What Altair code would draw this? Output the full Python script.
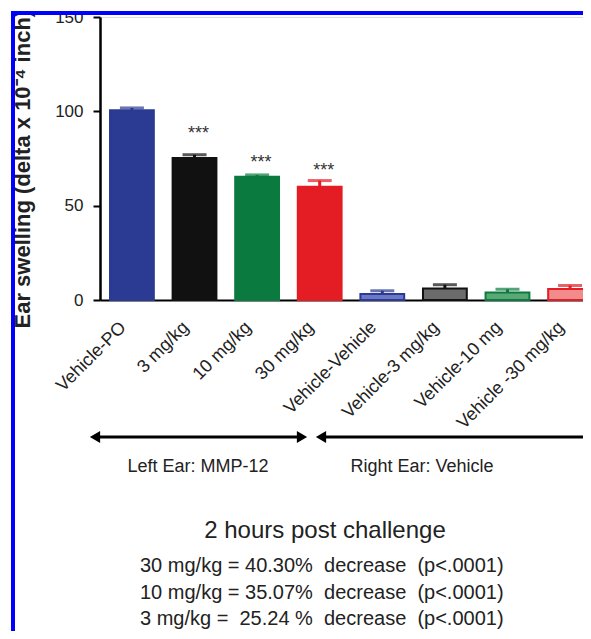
import altair as alt
import pandas as pd

# ---- data ----
groups = ["Vehicle-PO", "3 mg/kg", "10 mg/kg", "30 mg/kg",
          "Vehicle-Vehicle", "Vehicle-3 mg/kg", "Vehicle-10 mg", "Vehicle -30 mg/kg"]
means = [100.6, 75.2, 65.3, 60.0, 3.2, 6.1, 4.0, 5.8]
sems = [1.2, 1.8, 1.0, 3.3, 1.7, 2.0, 1.7, 1.9]

star_groups = ["3 mg/kg", "10 mg/kg", "30 mg/kg"]
star_levels = [90.6, 75.1, 71.2]

y_ticks = [0, 50, 100, 150]

NB = "\u00a0"
region_labels = ["Left Ear: MMP-12", "Right Ear: Vehicle"]
subtitle = "2 hours post challenge"
notes = ["30 mg/kg = 40.30%" + NB * 2 + "decrease" + NB * 2 + "(p<.0001)",
         "10 mg/kg = 35.07%" + NB * 2 + "decrease" + NB * 2 + "(p<.0001)",
         "3 mg/kg =" + NB * 2 + "25.24 %" + NB * 2 + "decrease" + NB * 2 + "(p<.0001)"]

# ---- styles ----
fill_palette = ["#2b3a92", "#111111", "#0b7a3e", "#e31d23",
                "#6a78c6", "#6b6b6b", "#5aa876", "#f28c8c"]
stroke_palette = ["#2b3a92", "#111111", "#0b7a3e", "#e31d23",
                  "#2b3a92", "#111111", "#0b7a3e", "#e31d23"]
FONT = "Liberation Sans"
BORDER = "#0000ff"

df = pd.DataFrame({"group": groups, "mean": means, "sem": sems})
df["top"] = df["mean"] + df["sem"]
stars = pd.DataFrame({"group": star_groups, "level": star_levels})
one = pd.DataFrame({"k": [0]})

x_scale = alt.Scale(domain=groups, range=[0, 502], paddingInner=0.3, paddingOuter=0.16)
x_axis = alt.Axis(title=None, labelAngle=315, labelAlign="right", labelBaseline="alphabetic",
                  labelPadding=28, labelOffset=-5, labelFontSize=18, labelColor="#222222",
                  labelFont=FONT, ticks=False, tickSize=0, domainColor="black",
                  domainWidth=2, labelOverlap=False, labelBound=False, grid=False)
y_scale = alt.Scale(domain=[0, 150], nice=False, zero=True)
y_axis = alt.Axis(title="Ear swelling (delta x 10\u207b\u2074 inch)", values=y_ticks,
                  titleFontSize=22, titleFontWeight="bold", titleFont=FONT, titleColor="#222222",
                  titleAngle=270, titleAlign="left", titleBaseline="alphabetic",
                  titleX=-71, titleY=311,
                  labelFontSize=17, labelFont=FONT, labelColor="#222222", labelPadding=10,
                  tickSize=7, tickWidth=2, tickColor="black",
                  domainColor="black", domainWidth=2.5, grid=False)

X = alt.X("group:N", scale=x_scale, axis=x_axis, sort=groups)

bars = alt.Chart(df).mark_bar(strokeWidth=2).encode(
    x=X,
    y=alt.Y("mean:Q", scale=y_scale, axis=y_axis),
    fill=alt.Fill("group:N", scale=alt.Scale(domain=groups, range=fill_palette), legend=None),
    stroke=alt.Stroke("group:N", scale=alt.Scale(domain=groups, range=stroke_palette), legend=None),
)

err_rule = alt.Chart(df).mark_rule(strokeWidth=3).encode(
    x=X,
    y=alt.Y("mean:Q", scale=y_scale, axis=y_axis),
    y2="top:Q",
    color=alt.Color("group:N", scale=alt.Scale(domain=groups, range=stroke_palette), legend=None),
)

err_cap = alt.Chart(df).mark_tick(size=24, thickness=3).encode(
    x=X,
    y=alt.Y("top:Q", scale=y_scale, axis=y_axis),
    color=alt.Color("group:N", scale=alt.Scale(domain=groups, range=stroke_palette), legend=None),
)

star_text = alt.Chart(stars).mark_text(text="***", fontSize=18, font=FONT, color="#333333",
                                       baseline="alphabetic", dx=4, dy=10).encode(
    x=X,
    y=alt.Y("level:Q", scale=y_scale, axis=y_axis),
)

# arrows under the category labels (plot-pixel decorations)
def hline(x1, x2, y, width=3, color="black"):
    return alt.Chart(one).mark_rule(strokeWidth=width, color=color).encode(
        x=alt.value(x1), x2=alt.value(x2), y=alt.value(y))

def head(x, y, shape):
    return alt.Chart(one).mark_point(shape=shape, filled=True, size=140, color="black",
                                     opacity=1).encode(x=alt.value(x), y=alt.value(y))

arrows = [
    hline(-6, 203, 420), head(-5, 420, "triangle-left"), head(202, 420, "triangle-right"),
    hline(221, 620, 420), head(221, 420, "triangle-left"),
]

def label(text, x, y, size, align="center", baseline="middle"):
    return alt.Chart(one).mark_text(text=text, fontSize=size, font=FONT, color="#222222",
                                    align=align, baseline=baseline).encode(
        x=alt.value(x), y=alt.value(y))

texts = [
    label(region_labels[0], 98, 450, 18),
    label(region_labels[1], 322, 450, 18),
    label(subtitle, 225, 514, 24),
]
note_y = [549, 576, 602]
for t, yy in zip(notes, note_y):
    texts.append(label(t, 40, yy, 20, align="left"))

# blue frame (left and top) of the cropped figure
frame_top = alt.Chart(one).mark_rule(strokeWidth=4, color=BORDER).encode(
    x=alt.value(-89), x2=alt.value(620), y=alt.value(-4))
frame_left = alt.Chart(one).mark_rule(strokeWidth=4, color=BORDER).encode(
    x=alt.value(-87), x2=alt.value(-87), y=alt.value(-6), y2=alt.value(700))

chart = alt.layer(
    bars, err_rule, err_cap, star_text, *arrows, *texts, frame_top, frame_left
).properties(
    width=483, height=283,
    padding={"left": 92, "top": 9, "right": 0, "bottom": 331},
    autosize=alt.AutoSizeParams(type="none"),
).configure_view(stroke=None).configure(font=FONT, background="white")

chart.save("out.html", embed_options={"renderer": "svg", "actions": False})
